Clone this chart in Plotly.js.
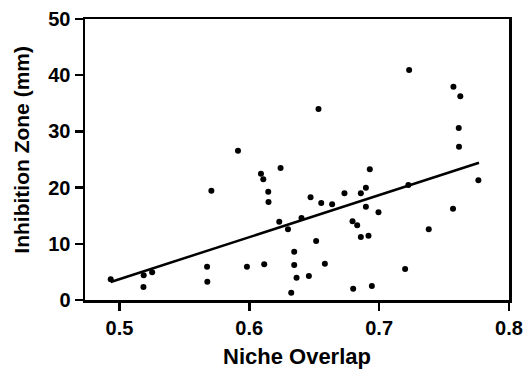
<!DOCTYPE html>
<html>
<head>
<meta charset="utf-8">
<script src="https://cdn.plot.ly/plotly-3.0.1.min.js"></script>
<style>html,body{margin:0;padding:0;background:#fff}#chart{width:525px;height:369px}</style>
</head>
<body>
<div id="chart"></div>
<script>
// Niche overlap (x) vs inhibition zone in mm (y)
const nicheOverlap = [
  0.5913, 0.7231, 0.7572, 0.7625, 0.6533, 0.7613, 0.7615, 0.6241, 0.6090, 0.6108,
  0.5708, 0.6146, 0.6148, 0.6231, 0.6298, 0.6346, 0.6346, 0.6364, 0.6323, 0.6115,
  0.5982, 0.5675, 0.5677, 0.5252, 0.5187, 0.5185, 0.4933, 0.6928, 0.6472, 0.6554,
  0.6638, 0.6733, 0.6859, 0.6898, 0.6898, 0.6995, 0.6402, 0.6795, 0.6831, 0.6859,
  0.6918, 0.6515, 0.7225, 0.7764, 0.7569, 0.7382, 0.6582, 0.6459, 0.7200, 0.6800,
  0.6944
];
const inhibitionZone = [
  26.57, 40.93, 37.95, 36.25, 33.99, 30.60, 27.28, 23.49, 22.47, 21.48,
  19.45, 19.27, 17.44, 13.93, 12.58, 8.59, 6.23, 3.97, 1.30, 6.35,
  5.93, 5.93, 3.26, 4.93, 4.40, 2.31, 3.68, 23.26, 18.27, 17.26,
  17.03, 18.99, 18.99, 19.98, 16.60, 15.60, 14.59, 14.00, 13.29, 11.21,
  11.44, 10.50, 20.46, 21.30, 16.25, 12.58, 6.46, 4.27, 5.52, 2.01,
  2.49
];
// regression line end points
const fitX = [0.4933, 0.7769];
const fitY = [3.2, 24.43];

const xTicks = [0.5, 0.6, 0.7, 0.8];
const xTickText = ['0.5', '0.6', '0.7', '0.8'];
const yTicks = [0, 10, 20, 30, 40, 50];
const yTickText = ['0', '10', '20', '30', '40', '50'];
const xTitle = 'Niche Overlap';
const yTitle = 'Inhibition Zone (mm)';

const fam = 'Arial, "Liberation Sans", Helvetica, sans-serif';

const traces = [
  {
    x: nicheOverlap, y: inhibitionZone, type: 'scatter', mode: 'markers',
    marker: {color: '#000', size: 6}, hoverinfo: 'skip', showlegend: false
  },
  {
    x: fitX, y: fitY, type: 'scatter', mode: 'lines',
    line: {color: '#000', width: 2.5}, hoverinfo: 'skip', showlegend: false
  }
];

const axisCommon = {
  showline: true, linecolor: '#000', linewidth: 2.5, mirror: true,
  ticks: 'outside', ticklen: 8, tickwidth: 2.5, tickcolor: '#000',
  showgrid: false, zeroline: false,
  tickfont: {family: fam, size: 20, color: '#000', weight: 'bold'}
};

const layout = {
  width: 525, height: 369,
  margin: {l: 84.5, r: 16, t: 19, b: 69},
  paper_bgcolor: '#fff', plot_bgcolor: '#fff',
  showlegend: false,
  xaxis: Object.assign({}, axisCommon, {
    range: [0.4735, 0.8], tickmode: 'array', tickvals: xTicks, ticktext: xTickText,
    title: {text: xTitle, font: {family: fam, size: 22, color: '#000', weight: 'bold'}, standoff: 14}
  }),
  yaxis: Object.assign({}, axisCommon, {
    range: [0, 50], tickmode: 'array', tickvals: yTicks, ticktext: yTickText
  }),
  annotations: [{
    text: yTitle, xref: 'paper', yref: 'paper', x: 0, y: 0.535,
    xanchor: 'center', yanchor: 'middle', xshift: -63, textangle: -90,
    showarrow: false,
    font: {family: fam, size: 21, color: '#000', weight: 'bold'}
  }]
};

Plotly.newPlot('chart', traces, layout, {staticPlot: true, displayModeBar: false});
</script>
</body>
</html>
